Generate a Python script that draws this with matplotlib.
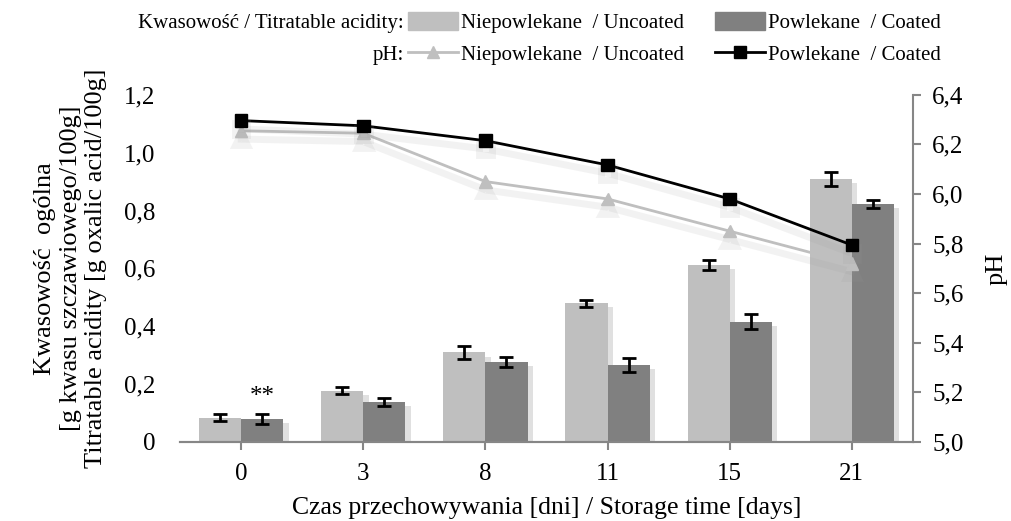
import matplotlib
matplotlib.use('Agg')
import matplotlib.pyplot as plt
import matplotlib.patheffects as pe
from matplotlib.lines import Line2D
from matplotlib.patches import Patch
import numpy as np

plt.rcParams['font.family'] = ['Liberation Serif', 'DejaVu Serif']
plt.rcParams['font.size'] = 18

# --- data
days = ['0', '3', '8', '11', '15', '21']
acid_uncoated = [0.084, 0.177, 0.309, 0.479, 0.611, 0.909]
acid_uncoated_err = [0.011, 0.011, 0.023, 0.012, 0.017, 0.023]
acid_coated = [0.080, 0.137, 0.277, 0.266, 0.416, 0.822]
acid_coated_err = [0.017, 0.013, 0.017, 0.023, 0.025, 0.013]
ph_uncoated = [6.255, 6.245, 6.05, 5.98, 5.85, 5.72]
ph_coated = [6.296, 6.275, 6.215, 6.117, 5.98, 5.794]

light = '#bfbfbf'
dark = '#808080'
axis_grey = '#868686'

fig = plt.figure(figsize=(10.12, 5.21), dpi=100)
ax1 = fig.add_axes([0.178, 0.152, 0.724, 0.666])
ax2 = ax1.twinx()

x = np.arange(len(days))
w = 0.345
shadow = [pe.SimplePatchShadow(offset=(4, -3), shadow_rgbFace='#999999', alpha=0.3), pe.Normal()]

b1 = ax1.bar(x - w / 2, acid_uncoated, w, color=light, zorder=2)
b2 = ax1.bar(x + w / 2, acid_coated, w, color=dark, zorder=2)
for b in list(b1) + list(b2):
    b.set_path_effects(shadow)
ax1.errorbar(x - w / 2, acid_uncoated, yerr=acid_uncoated_err, fmt='none',
             ecolor='black', elinewidth=2, capsize=5, capthick=2, zorder=3)
ax1.errorbar(x + w / 2, acid_coated, yerr=acid_coated_err, fmt='none',
             ecolor='black', elinewidth=2, capsize=5, capthick=2, zorder=3)
ax1.text(x[0] + w / 2, 0.155, '**', ha='center', va='center', fontsize=18)

lshadow = [pe.SimpleLineShadow(offset=(0, -6), shadow_color='#999999', alpha=0.12, linewidth=5), pe.Normal()]
ax2.plot(x, ph_uncoated, color=light, lw=2, marker='^', ms=9, mec=light, mfc=light,
         path_effects=lshadow)
ax2.plot(x, ph_coated, color='black', lw=2, marker='s', ms=9, mec='black', mfc='black',
         path_effects=lshadow)

ax1.set_xlim(-0.5, 5.5)
ax1.set_ylim(0, 1.2)
ax2.set_ylim(5.0, 6.4)
ax1.set_xticks(x)
ax1.set_xticklabels(days)
ax1.set_yticks(np.arange(0, 1.21, 0.2))
ax1.set_yticklabels(['0'] + [f'{v:.1f}'.replace('.', ',') for v in np.arange(0.2, 1.21, 0.2)])
ax2.set_yticks(np.arange(5.0, 6.41, 0.2))
ax2.set_yticklabels([f'{v:.1f}'.replace('.', ',') for v in np.arange(5.0, 6.41, 0.2)])

for ax in (ax1, ax2):
    ax.spines['top'].set_visible(False)
    ax.spines['left'].set_visible(False)
    ax.spines['right'].set_visible(False)
    ax.spines['bottom'].set_color(axis_grey)
    ax.spines['bottom'].set_linewidth(1.5)
ax2.spines['right'].set_visible(True)
ax2.spines['right'].set_color(axis_grey)
ax2.spines['right'].set_linewidth(1.5)
ax1.tick_params(axis='y', length=0, pad=18)
ax1.tick_params(axis='x', length=6, color=axis_grey, width=1.5, pad=9)
ax2.tick_params(axis='y', length=6, color=axis_grey, width=1.5, pad=8)

ax1.set_ylabel('Kwasowość  ogólna\n[g kwasu szczawiowego/100g]\nTitratable acidity [g oxalic acid/100g]',
               fontsize=19, linespacing=1.2, labelpad=12)
ax2.set_ylabel('pH', fontsize=19, labelpad=16)
ax1.set_xlabel('Czas przechowywania [dni] / Storage time [days]', fontsize=18.5, labelpad=9)

handles = [Patch(color=light), Line2D([], [], color=light, lw=2, marker='^', ms=8),
           Patch(color=dark), Line2D([], [], color='black', lw=2, marker='s', ms=8)]
labels = ['Niepowlekane  / Uncoated', 'Niepowlekane  / Uncoated',
          'Powlekane  / Coated', 'Powlekane  / Coated']
leg = fig.legend(handles, labels, ncol=2, loc='upper right', bbox_to_anchor=(0.948, 1.012),
                 frameon=False, fontsize=15, handlelength=2.4, handleheight=0.9,
                 handletextpad=0.15, columnspacing=1.45, labelspacing=0.5)

fig.canvas.draw()
inv = fig.transFigure.inverted()
texts = leg.get_texts()
hx = leg.get_window_extent().x0
for t, s in zip(texts[:2], ['Kwasowość / Titratable acidity:', 'pH:']):
    bb = t.get_window_extent()
    yc = inv.transform((0, (bb.y0 + bb.y1) / 2))[1]
    xl = inv.transform((hx + 4, 0))[0]
    fig.text(xl, yc, s, ha='right', va='center', fontsize=15)

fig.savefig('out.png', dpi=100)
